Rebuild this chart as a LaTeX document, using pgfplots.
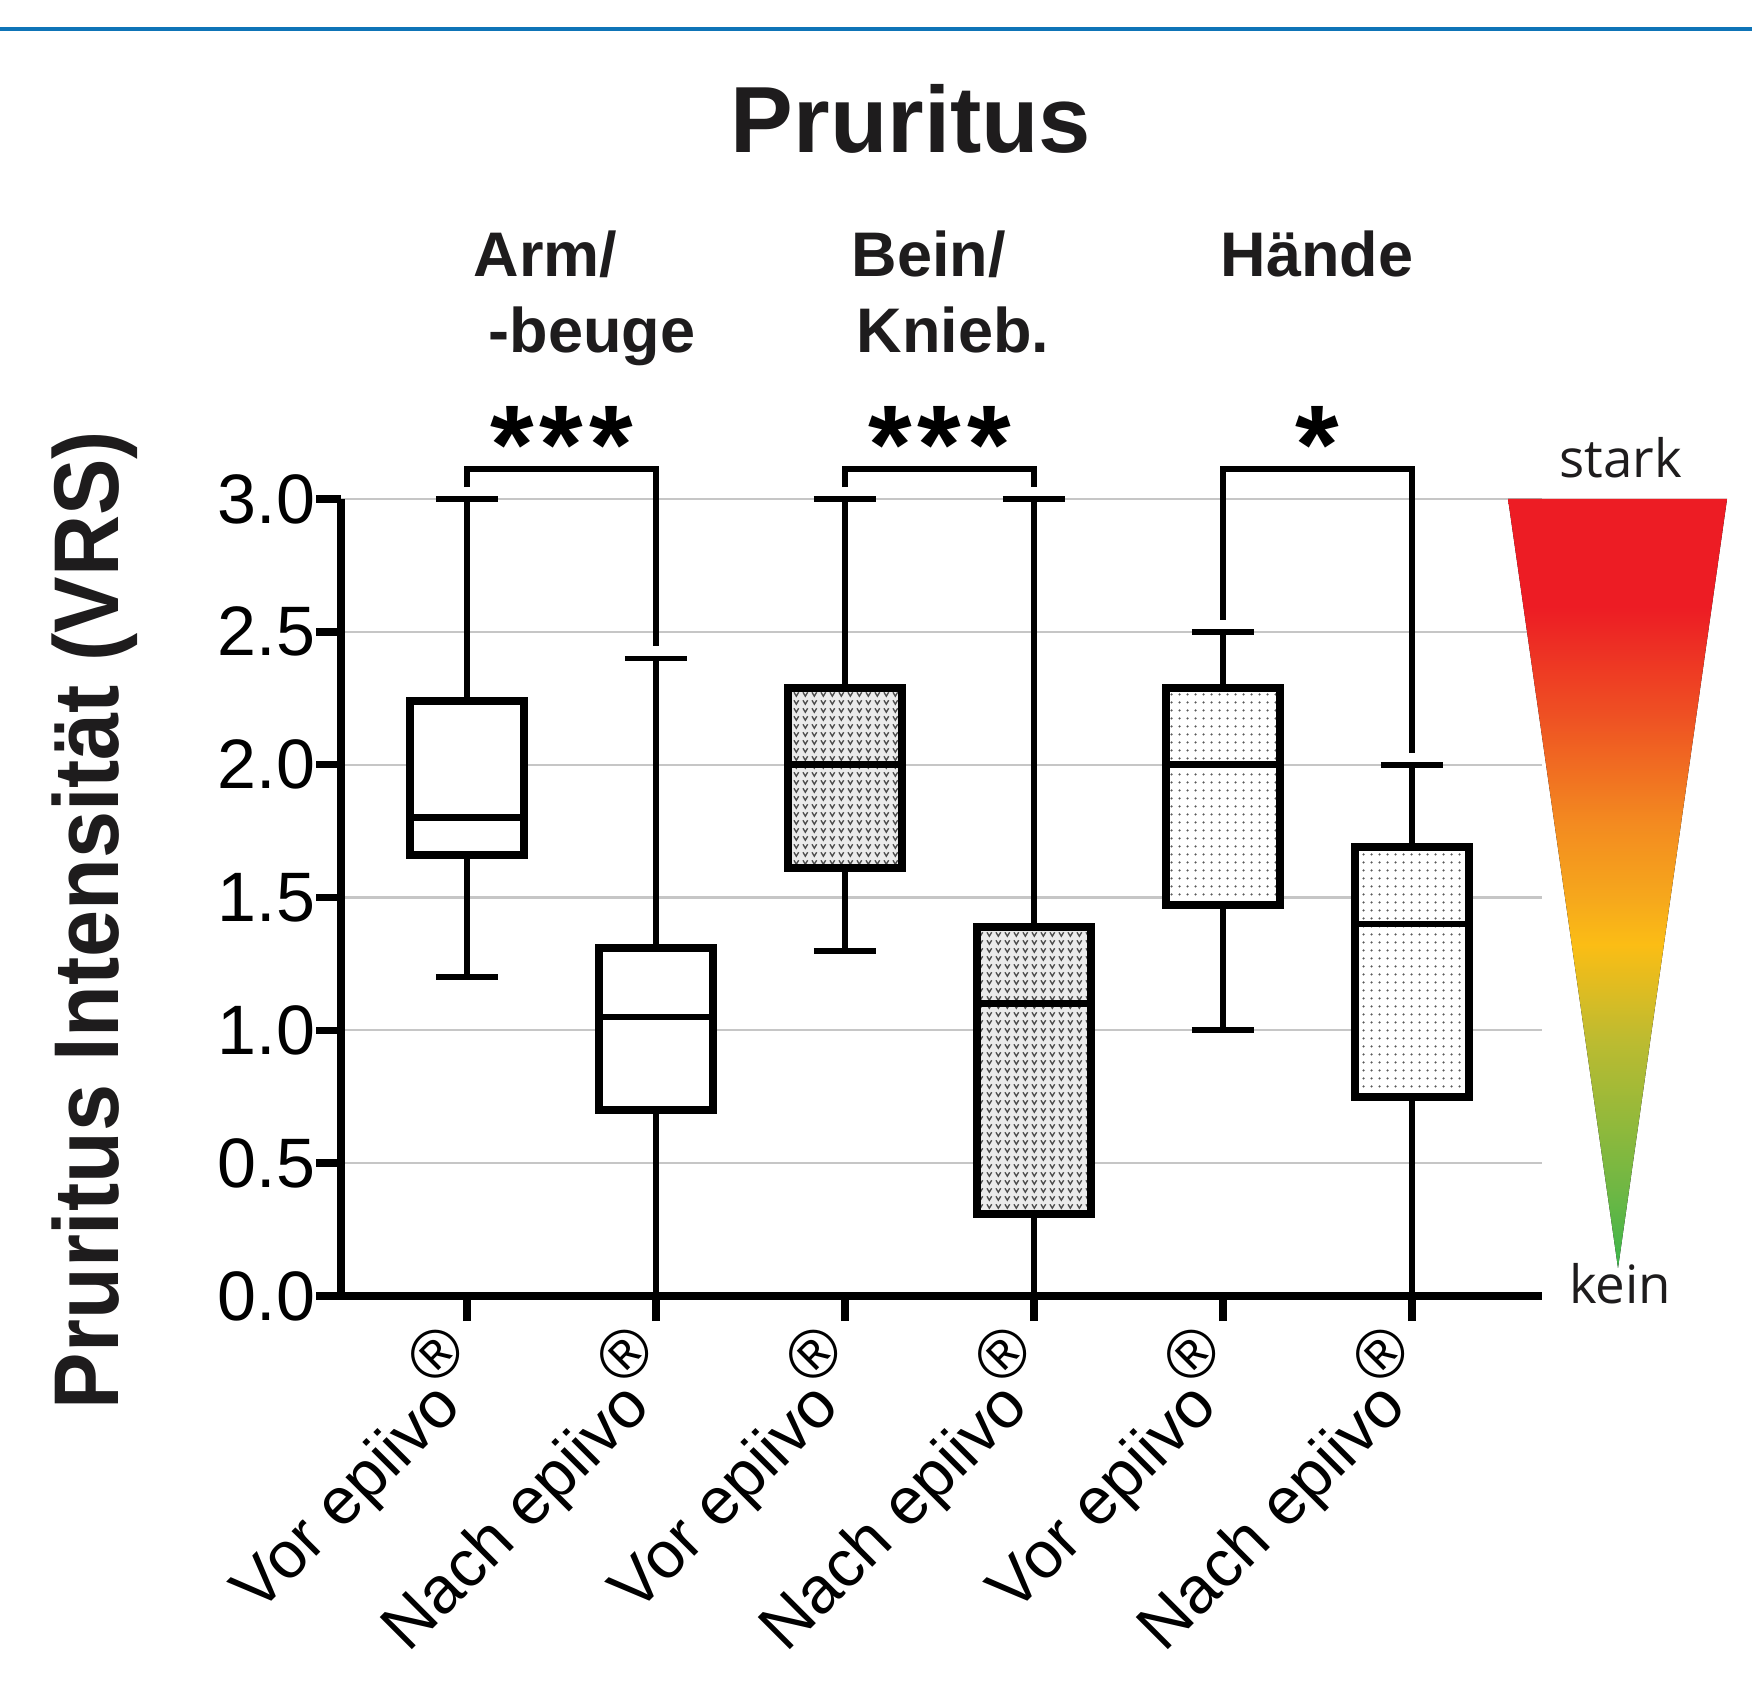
\documentclass[border=0pt]{standalone}
\usepackage{fontspec}
\setmainfont{Liberation Sans}
\newfontfamily\osfont{Open Sans}
\newfontfamily\lscond[FakeStretch=0.92]{Liberation Sans}
\usepackage{pgfplots}
\pgfplotsset{compat=1.18}
\usepgfplotslibrary{statistics}
\usetikzlibrary{patterns.meta}
\definecolor{topblue}{RGB}{14,116,183}
\definecolor{gridgray}{RGB}{198,198,198}
\definecolor{txt}{RGB}{30,28,29}
\definecolor{sA}{RGB}{237,28,36}
\definecolor{sB}{RGB}{238,80,35}
\definecolor{sC}{RGB}{243,138,32}
\definecolor{sD}{RGB}{246,168,28}
\definecolor{sE}{RGB}{251,189,21}
\definecolor{sF}{RGB}{190,187,48}
\definecolor{sG}{RGB}{110,183,68}
\definecolor{sH}{RGB}{58,181,74}
\pgfdeclareverticalshading{vrs}{100bp}{color(0bp)=(sH); color(25bp)=(sH); color(30bp)=(sG); color(40bp)=(sF); color(46bp)=(sE); color(49bp)=(sD); color(54bp)=(sC); color(61bp)=(sB); color(68bp)=(sA); color(75bp)=(sA); color(100bp)=(sA)}
\tikzdeclarepattern{
  name=vmarks,
  type=uncolored,
  bounding box={(0pt,0pt) and (2.2pt,2pt)},
  tile size={(2.2pt,2pt)},
  code={\draw[line width=0.35pt] (0.5pt,1.6pt) -- (1.1pt,0.5pt) -- (1.7pt,1.6pt);}
}
\tikzdeclarepattern{
  name=finedots,
  type=uncolored,
  bounding box={(0pt,0pt) and (2pt,2pt)},
  tile size={(2pt,2pt)},
  code={\fill (1pt,1pt) circle (0.34pt);}
}
\newcommand\reg{\rlap{\kern-1.4pt\raisebox{10.5pt}{$\vcenter{\hbox{\fontsize{17}{17}\selectfont ®}}$}}}
\pgfplotsset{
  whitebox/.style={boxplot/every box/.style={draw=black,line width=2pt,fill=white}},
  vbox/.style={boxplot/every box/.style={draw=black,line width=2pt,fill=black!8,postaction={pattern=vmarks,pattern color=black!70}}},
  dotbox/.style={boxplot/every box/.style={draw=black,line width=2pt,fill=white,postaction={pattern=finedots,pattern color=black!65}}},
  bx/.style={black, line width=1.45pt, line join=miter,
    boxplot/draw direction=y,
    boxplot/every whisker/.style={line width=1.45pt},
    boxplot/every median/.style={line width=1.7pt}},
}
\begin{document}
\begin{tikzpicture}
\fill[white] (0,0) rectangle (438pt,422.5pt);
\useasboundingbox (0,0) rectangle (438pt,422.5pt);
\draw[topblue, line width=1.1pt] (0,415.25pt) -- (438pt,415.25pt);
\node[anchor=base, font=\fontsize{23.5}{23.5}\selectfont\bfseries, text=txt] at (227.75pt,384.25pt) {Pruritus};
\node[anchor=base west, inner sep=0pt, font=\fontsize{15.75}{15.75}\selectfont\bfseries, text=txt] at (118.25pt,353.25pt) {Arm/};
\node[anchor=base west, inner sep=0pt, font=\fontsize{15.75}{15.75}\selectfont\bfseries, text=txt] at (122pt,334.25pt) {-beuge};
\node[anchor=base west, inner sep=0pt, font=\fontsize{15.75}{15.75}\selectfont\bfseries, text=txt] at (212.75pt,353.25pt) {Bein/};
\node[anchor=base west, inner sep=0pt, font=\fontsize{15.75}{15.75}\selectfont\bfseries, text=txt] at (214pt,334.25pt) {Knieb.};
\node[anchor=base west, inner sep=0pt, font=\fontsize{15.75}{15.75}\selectfont\bfseries, text=txt] at (305pt,353.25pt) {Hände};
\node[rotate=90, anchor=base, inner sep=0pt, font=\lscond\fontsize{23}{23}\selectfont\bfseries, text=txt] at (29.5pt,192.5pt) {Pruritus Intensität (VRS)};
\begin{axis}[
  at={(85.25pt,98.5pt)}, anchor=south west,
  scale only axis, width=300.25pt, height=199.25pt,
  xmin=0.3333, xmax=6.688, ymin=0, ymax=3,
  clip=false,
  axis x line=bottom, axis y line=left,
  axis line style={-, line width=1.9pt, black},
  tick align=outside,
  major tick length=6.25pt,
  major tick style={line width=1.9pt, black},
  ytick={0,0.5,...,3},
  xtick={1,...,6},
  xticklabels={Vor epiivo\reg, Nach epiivo\reg, Vor epiivo\reg, Nach epiivo\reg, Vor epiivo\reg, Nach epiivo\reg},
  ymajorgrids,
  grid style={gridgray, line width=0.55pt},
  yticklabel style={font=\fontsize{17.5}{17.5}\selectfont, inner sep=0pt, /pgf/number format/.cd, fixed, fixed zerofill, precision=1, assume math mode=true},
  xticklabel style={font=\fontsize{16.5}{16.5}\selectfont, inner sep=0pt, xshift=-0.65pt, yshift=-21.95pt, rotate=45, anchor=base east},
]
\addplot[bx, whitebox, boxplot prepared={draw position=1, lower whisker=1.2, lower quartile=1.66, median=1.8, upper quartile=2.24, upper whisker=3.0, box extend=0.6, whisker extend=0.33}] coordinates {};
\addplot[bx, whitebox, boxplot prepared={draw position=2, lower whisker=0, lower quartile=0.7, median=1.05, upper quartile=1.31, upper whisker=2.4, box extend=0.6, whisker extend=0.33}] coordinates {};
\addplot[bx, vbox, boxplot prepared={draw position=3, lower whisker=1.3, lower quartile=1.61, median=2.0, upper quartile=2.29, upper whisker=3.0, box extend=0.6, whisker extend=0.33}] coordinates {};
\addplot[bx, vbox, boxplot prepared={draw position=4, lower whisker=0, lower quartile=0.31, median=1.1, upper quartile=1.39, upper whisker=3.0, box extend=0.6, whisker extend=0.33}] coordinates {};
\addplot[bx, dotbox, boxplot prepared={draw position=5, lower whisker=1.0, lower quartile=1.47, median=2.0, upper quartile=2.29, upper whisker=2.5, box extend=0.6, whisker extend=0.33}] coordinates {};
\addplot[bx, dotbox, boxplot prepared={draw position=6, lower whisker=0, lower quartile=0.75, median=1.4, upper quartile=1.69, upper whisker=2.0, box extend=0.6, whisker extend=0.33}] coordinates {};
\draw[line width=1.45pt, line join=miter] (axis cs:1,3.045) |- (axis cs:2,3.112) -- (axis cs:2,2.445);
\draw[line width=1.45pt, line join=miter] (axis cs:3,3.045) |- (axis cs:4,3.112) -- (axis cs:4,3.045);
\draw[line width=1.45pt, line join=miter] (axis cs:5,2.545) |- (axis cs:6,3.112) -- (axis cs:6,2.045);
\node[anchor=base, inner sep=0pt, font=\fontsize{28}{28}\selectfont\bfseries] at (axis cs:1.5,3.06) {*\kern1.5pt*\kern1.5pt*};
\node[anchor=base, inner sep=0pt, font=\fontsize{28}{28}\selectfont\bfseries] at (axis cs:3.5,3.06) {*\kern1.5pt*\kern1.5pt*};
\node[anchor=base, inner sep=0pt, font=\fontsize{28}{28}\selectfont\bfseries] at (axis cs:5.5,3.06) {*};
\end{axis}
\fill[shading=vrs] (377pt,297.75pt) -- (431.75pt,297.75pt) -- (404.5pt,105.5pt) -- cycle;
\node[anchor=base, inner sep=0pt, font=\osfont\fontsize{13.2}{13.2}\selectfont, text=txt] at (405.25pt,303pt) {stark};
\node[anchor=base, inner sep=0pt, font=\osfont\fontsize{13.2}{13.2}\selectfont, text=txt] at (405pt,96.5pt) {kein};
\end{tikzpicture}
\end{document}
